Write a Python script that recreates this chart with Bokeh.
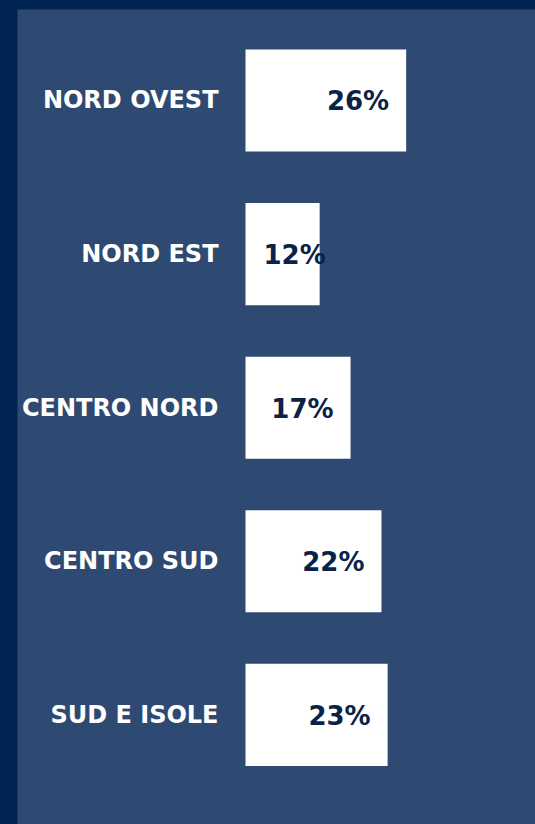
from bokeh.plotting import figure
from bokeh.models import Range1d, ColumnDataSource, GlobalInlineStyleSheet
from bokeh.core.properties import value
from bokeh.embed import file_html
from bokeh.resources import INLINE

# ---- data ----
categories = ["NORD OVEST", "NORD EST", "CENTRO NORD", "CENTRO SUD", "SUD E ISOLE"]
shares = [26, 12, 17, 22, 23]
share_labels = ["26%", "12%", "17%", "22%", "23%"]

# ---- style ----
DARK = "#002454"
INNER = "#2e4a72"
TEXT_DARK = "#0a2247"
FONT = "DejaVu Sans"

W, H = 535, 824
LEFT_B, TOP_B = 17, 9
X0, X1 = -36.9, 46.93
Y_BOTTOM, Y_TOP = 4.7135, -0.5924

p = figure(width=W, height=H, output_backend="svg", toolbar_location=None,
           x_range=Range1d(X0, X1), y_range=Range1d(Y_BOTTOM, Y_TOP),
           min_border_left=LEFT_B, min_border_top=TOP_B,
           min_border_right=0, min_border_bottom=0)
p.stylesheets = [GlobalInlineStyleSheet(css=f"html, body {{margin:0; padding:0; overflow:hidden; background:{DARK};}}")]
p.background_fill_color = INNER
p.border_fill_color = DARK
p.outline_line_color = None
p.xaxis.visible = False
p.yaxis.visible = False
p.xgrid.grid_line_color = None
p.ygrid.grid_line_color = None

idx = list(range(len(categories)))

# label placement: right-aligned inside bar end, unless the bar is too short
px_per_unit = (W - LEFT_B) / (X1 - X0)
label_w = 62
pad = 17
xs, aligns, offs = [], [], []
for v in shares:
    right = v * px_per_unit - pad
    if right - label_w < pad:
        xs.append(0); aligns.append("left"); offs.append(pad + 1)
    else:
        xs.append(v); aligns.append("right"); offs.append(-pad)

src = ColumnDataSource(dict(y=idx, cat=categories, val=shares, lab=share_labels,
                            lx=xs, align=aligns, off=offs, zero=[0] * len(idx)))

p.hbar(y="y", left="zero", right="val", height=0.665, source=src,
       fill_color="white", line_color=None)

p.text(x="zero", y="y", text="cat", source=src, x_offset=-27,
       text_align="right", text_baseline="middle",
       text_font=value(FONT), text_font_style="bold", text_font_size="24px",
       text_color="white")

p.text(x="lx", y="y", text="lab", source=src, x_offset="off", y_offset=1,
       text_align="align", text_baseline="middle",
       text_font=value(FONT), text_font_style="bold", text_font_size="26px",
       text_color=TEXT_DARK)

open("out.html", "w").write(file_html(p, INLINE))
